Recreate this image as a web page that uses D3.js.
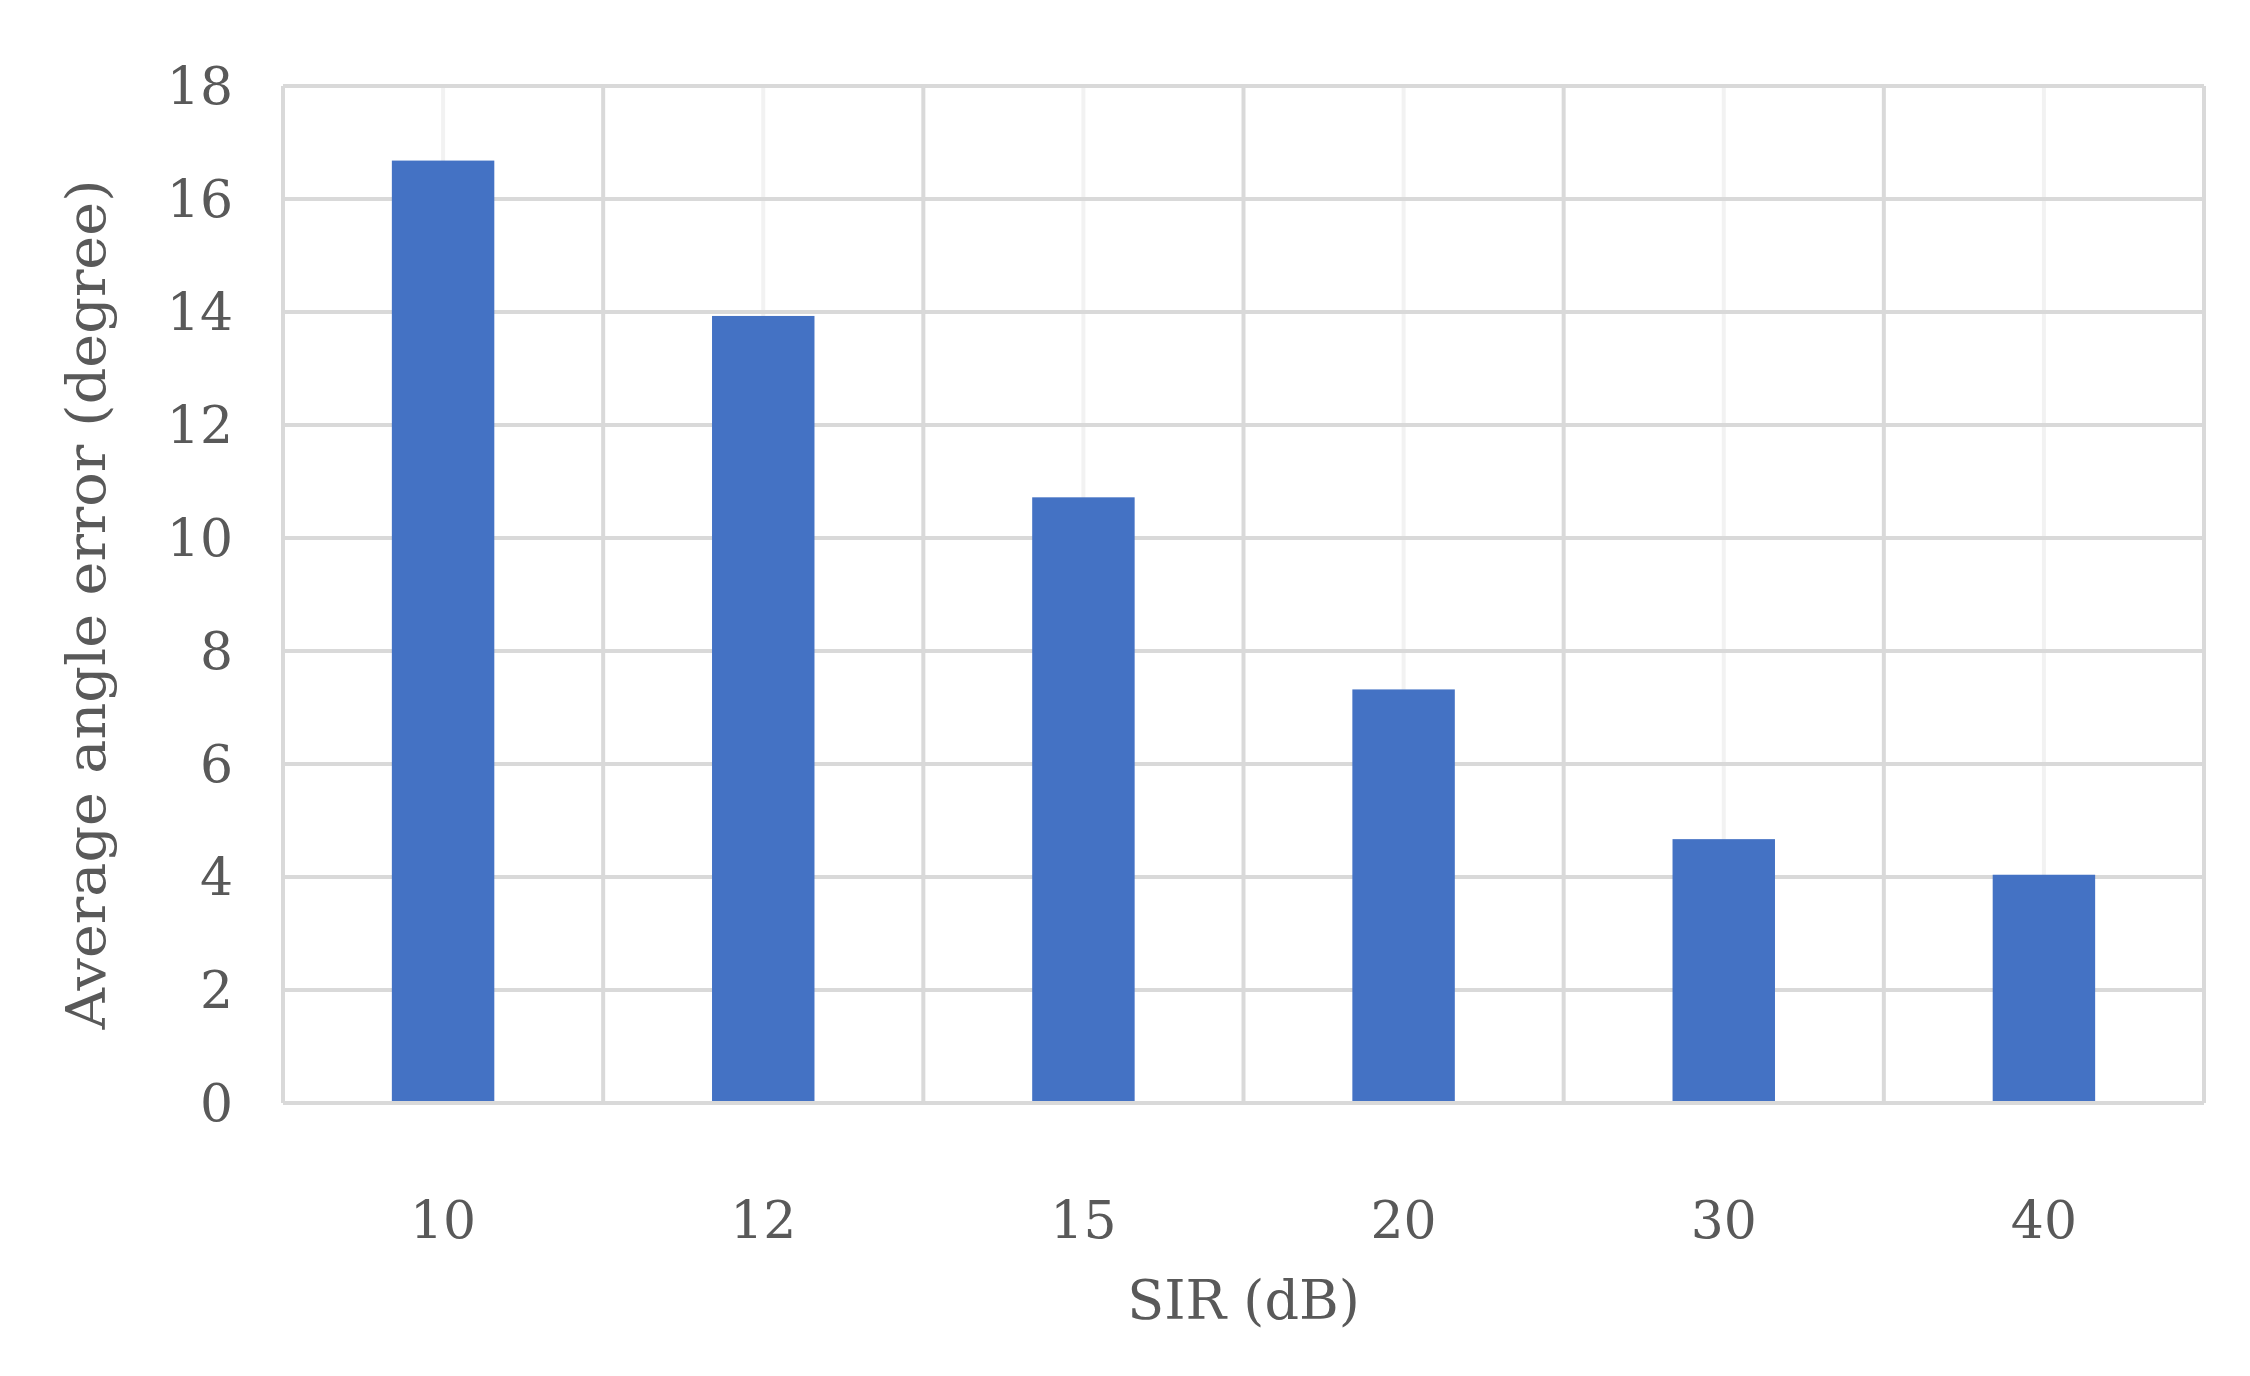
<!DOCTYPE html>
<html>
<head>
<meta charset="utf-8">
<script src="https://cdn.jsdelivr.net/npm/d3@7"></script>
<style>
body { margin: 0; background: #fff; }
text { font-family: "DejaVu Serif", "Liberation Serif", serif; fill: #595959; }
</style>
</head>
<body>
<div id="app"></div>
<script>
// data
var categories = ["10", "12", "15", "20", "30", "40"];
var values = [16.68, 13.93, 10.72, 7.32, 4.67, 4.04];
var yTicks = [0, 2, 4, 6, 8, 10, 12, 14, 16, 18];

var W = 2250, H = 1376;
var margin = { left: 283, right: 46, top: 86, bottom: 273 };
var width = W - margin.left - margin.right;
var height = H - margin.top - margin.bottom;

var svg = d3.select("#app").append("svg")
    .attr("width", W).attr("height", H);
var g = svg.append("g")
    .attr("transform", "translate(" + margin.left + "," + margin.top + ")");

var x = d3.scaleBand().domain(categories).range([0, width]).paddingInner(0).paddingOuter(0);
var y = d3.scaleLinear().domain([0, 18]).range([height, 0]);

// minor lines at category centers
g.selectAll(".minor").data(categories).enter().append("line")
    .attr("x1", function(d) { return x(d) + x.bandwidth() / 2; })
    .attr("x2", function(d) { return x(d) + x.bandwidth() / 2; })
    .attr("y1", 0).attr("y2", height)
    .attr("stroke", "#f2f2f2").attr("stroke-width", 4);

// horizontal gridlines
g.selectAll(".hgrid").data(yTicks).enter().append("line")
    .attr("x1", 0).attr("x2", width)
    .attr("y1", function(d) { return y(d); })
    .attr("y2", function(d) { return y(d); })
    .attr("stroke", "#d9d9d9").attr("stroke-width", 4);

// vertical category boundaries
var bounds = categories.map(function(d) { return x(d); }).concat([width]);
g.selectAll(".vgrid").data(bounds).enter().append("line")
    .attr("x1", function(d) { return d; }).attr("x2", function(d) { return d; })
    .attr("y1", 0).attr("y2", height)
    .attr("stroke", "#d9d9d9").attr("stroke-width", 4);

// bars
var barW = x.bandwidth() * 0.32;
g.selectAll(".bar").data(values).enter().append("rect")
    .attr("x", function(d, i) { return x(categories[i]) + (x.bandwidth() - barW) / 2; })
    .attr("width", barW)
    .attr("y", function(d) { return y(d); })
    .attr("height", function(d) { return height - 2 - y(d); })
    .attr("fill", "#4472c4");

// y tick labels
g.selectAll(".ylab").data(yTicks).enter().append("text")
    .attr("x", -50).attr("y", function(d) { return y(d); })
    .attr("dy", "0.35em").attr("text-anchor", "end")
    .attr("font-size", 52)
    .text(function(d) { return d; });

// x tick labels
g.selectAll(".xlab").data(categories).enter().append("text")
    .attr("x", function(d) { return x(d) + x.bandwidth() / 2; })
    .attr("y", height + 117)
    .attr("dy", "0.35em").attr("text-anchor", "middle")
    .attr("font-size", 52)
    .text(function(d) { return d; });

// axis titles
svg.append("text")
    .attr("x", margin.left + width / 2).attr("y", 1300)
    .attr("dy", "0.35em").attr("text-anchor", "middle")
    .attr("font-size", 54)
    .text("SIR (dB)");

svg.append("text")
    .attr("transform", "translate(86," + (margin.top + height / 2 + 10) + ") rotate(-90)")
    .attr("dy", "0.35em").attr("text-anchor", "middle")
    .attr("font-size", 54)
    .attr("textLength", 850).attr("lengthAdjust", "spacingAndGlyphs")
    .text("Average angle error (degree)");
</script>
</body>
</html>
